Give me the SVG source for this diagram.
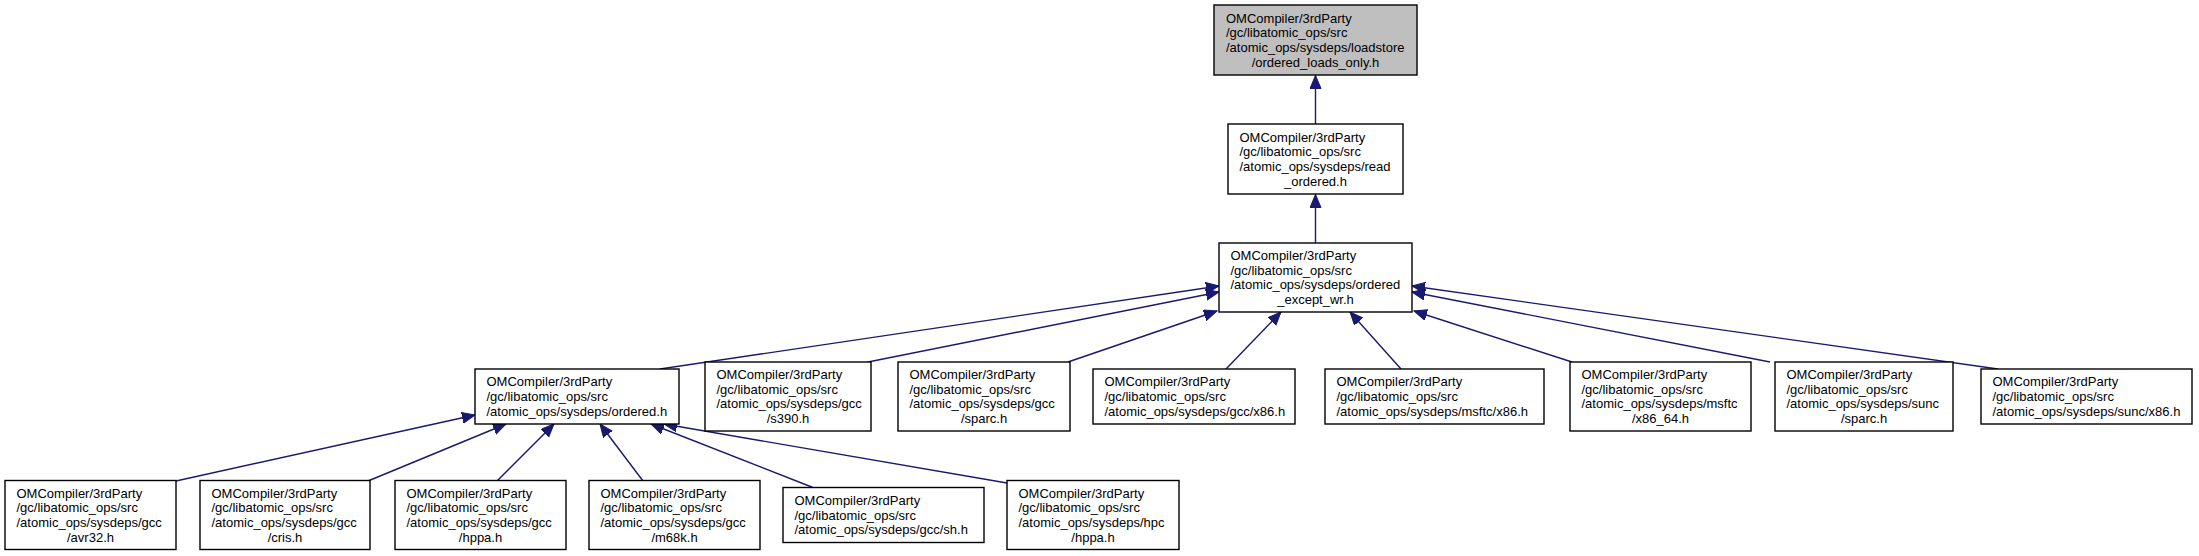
<svg xmlns="http://www.w3.org/2000/svg" width="2199" height="556" viewBox="0 0 2199 556">
<defs>
<style>
.box{fill:#ffffff;stroke:#000000;stroke-width:1.4}
.root{fill:#bfbfbf;stroke:#000000;stroke-width:1.4}
text{font-family:"Liberation Sans",Arial,Helvetica,sans-serif;font-size:13px;fill:#000000}
.c{text-anchor:middle}
.e{fill:none;stroke:#191970;stroke-width:1.4;marker-end:url(#ah)}
</style>
<marker id="ah" markerUnits="userSpaceOnUse" markerWidth="14" markerHeight="12" refX="13" refY="5.5" orient="auto">
<path d="M0,0 L13,5.5 L0,11 z" fill="#191970" stroke="#191970" stroke-width="1"/>
</marker>
</defs>
<rect width="2199" height="556" fill="#ffffff"/>

<g id="connectors">
<path class="e" d="M1315.5,124 L1315.5,75.5"/>
<path class="e" d="M1315.5,243 L1315.5,194.5"/>
<path class="e" d="M660,369 L1219,286"/>
<path class="e" d="M868,362 L1219,292"/>
<path class="e" d="M1068,362 L1217,311"/>
<path class="e" d="M1226,369 L1281,312"/>
<path class="e" d="M1401,369 L1350,312"/>
<path class="e" d="M1572,362 L1414,311"/>
<path class="e" d="M1770,362 L1412,292"/>
<path class="e" d="M1998,369 L1412,286"/>
<path class="e" d="M176,481 L475,415"/>
<path class="e" d="M368,481 L506,424"/>
<path class="e" d="M497,481 L554,424"/>
<path class="e" d="M643,481 L600,424"/>
<path class="e" d="M813,487.5 L651,424"/>
<path class="e" d="M1007,483 L664,424"/>
</g>

<g id="node_loads_only">
<rect class="root" x="1214" y="5" width="203" height="70"/>
<text x="1226" y="22.5">OMCompiler/3rdParty</text>
<text x="1226" y="37.2">/gc/libatomic_ops/src</text>
<text x="1226" y="51.9">/atomic_ops/sysdeps/loadstore</text>
<text class="c" x="1315.5" y="66.6">/ordered_loads_only.h</text>
</g>

<g id="node_read_ordered">
<rect class="box" x="1228" y="124" width="175" height="70"/>
<text x="1239.5" y="141.5">OMCompiler/3rdParty</text>
<text x="1239.5" y="156.2">/gc/libatomic_ops/src</text>
<text x="1239.5" y="170.9">/atomic_ops/sysdeps/read</text>
<text class="c" x="1315.5" y="185.6">_ordered.h</text>
</g>

<g id="node_ordered_except_wr">
<rect class="box" x="1219" y="243" width="193" height="69"/>
<text x="1230.5" y="260">OMCompiler/3rdParty</text>
<text x="1230.5" y="274.7">/gc/libatomic_ops/src</text>
<text x="1230.5" y="289.4">/atomic_ops/sysdeps/ordered</text>
<text class="c" x="1315.5" y="304.1">_except_wr.h</text>
</g>

<g id="node_ordered">
<rect class="box" x="475" y="369" width="204" height="55"/>
<text x="486.5" y="386.3">OMCompiler/3rdParty</text>
<text x="486.5" y="401">/gc/libatomic_ops/src</text>
<text x="486.5" y="415.7">/atomic_ops/sysdeps/ordered.h</text>
</g>

<g id="node_gcc_s390">
<rect class="box" x="705" y="362" width="166" height="69"/>
<text x="716.5" y="379">OMCompiler/3rdParty</text>
<text x="716.5" y="393.7">/gc/libatomic_ops/src</text>
<text x="716.5" y="408.4">/atomic_ops/sysdeps/gcc</text>
<text class="c" x="788" y="423.1">/s390.h</text>
</g>

<g id="node_gcc_sparc">
<rect class="box" x="898" y="362" width="172" height="69"/>
<text x="909.5" y="379">OMCompiler/3rdParty</text>
<text x="909.5" y="393.7">/gc/libatomic_ops/src</text>
<text x="909.5" y="408.4">/atomic_ops/sysdeps/gcc</text>
<text class="c" x="984" y="423.1">/sparc.h</text>
</g>

<g id="node_gcc_x86">
<rect class="box" x="1093" y="369" width="202" height="55"/>
<text x="1104.5" y="386.3">OMCompiler/3rdParty</text>
<text x="1104.5" y="401">/gc/libatomic_ops/src</text>
<text x="1104.5" y="415.7">/atomic_ops/sysdeps/gcc/x86.h</text>
</g>

<g id="node_msftc_x86">
<rect class="box" x="1325" y="369" width="219" height="55"/>
<text x="1336.5" y="386.3">OMCompiler/3rdParty</text>
<text x="1336.5" y="401">/gc/libatomic_ops/src</text>
<text x="1336.5" y="415.7">/atomic_ops/sysdeps/msftc/x86.h</text>
</g>

<g id="node_msftc_x86_64">
<rect class="box" x="1570" y="362" width="181" height="69"/>
<text x="1581.5" y="379">OMCompiler/3rdParty</text>
<text x="1581.5" y="393.7">/gc/libatomic_ops/src</text>
<text x="1581.5" y="408.4">/atomic_ops/sysdeps/msftc</text>
<text class="c" x="1660.5" y="423.1">/x86_64.h</text>
</g>

<g id="node_sunc_sparc">
<rect class="box" x="1775" y="362" width="178" height="69"/>
<text x="1786.5" y="379">OMCompiler/3rdParty</text>
<text x="1786.5" y="393.7">/gc/libatomic_ops/src</text>
<text x="1786.5" y="408.4">/atomic_ops/sysdeps/sunc</text>
<text class="c" x="1864" y="423.1">/sparc.h</text>
</g>

<g id="node_sunc_x86">
<rect class="box" x="1981" y="369" width="211" height="55"/>
<text x="1992.5" y="386.3">OMCompiler/3rdParty</text>
<text x="1992.5" y="401">/gc/libatomic_ops/src</text>
<text x="1992.5" y="415.7">/atomic_ops/sysdeps/sunc/x86.h</text>
</g>

<g id="node_gcc_avr32">
<rect class="box" x="5" y="480.5" width="171" height="69"/>
<text x="16.5" y="497.5">OMCompiler/3rdParty</text>
<text x="16.5" y="512.2">/gc/libatomic_ops/src</text>
<text x="16.5" y="526.9">/atomic_ops/sysdeps/gcc</text>
<text class="c" x="90.5" y="541.6">/avr32.h</text>
</g>

<g id="node_gcc_cris">
<rect class="box" x="200" y="480.5" width="170" height="69"/>
<text x="211.5" y="497.5">OMCompiler/3rdParty</text>
<text x="211.5" y="512.2">/gc/libatomic_ops/src</text>
<text x="211.5" y="526.9">/atomic_ops/sysdeps/gcc</text>
<text class="c" x="285" y="541.6">/cris.h</text>
</g>

<g id="node_gcc_hppa">
<rect class="box" x="395" y="480.5" width="171" height="69"/>
<text x="406.5" y="497.5">OMCompiler/3rdParty</text>
<text x="406.5" y="512.2">/gc/libatomic_ops/src</text>
<text x="406.5" y="526.9">/atomic_ops/sysdeps/gcc</text>
<text class="c" x="480.5" y="541.6">/hppa.h</text>
</g>

<g id="node_gcc_m68k">
<rect class="box" x="589" y="480.5" width="171" height="69"/>
<text x="600.5" y="497.5">OMCompiler/3rdParty</text>
<text x="600.5" y="512.2">/gc/libatomic_ops/src</text>
<text x="600.5" y="526.9">/atomic_ops/sysdeps/gcc</text>
<text class="c" x="674.5" y="541.6">/m68k.h</text>
</g>

<g id="node_gcc_sh">
<rect class="box" x="783" y="487.5" width="201" height="55"/>
<text x="794.5" y="504.8">OMCompiler/3rdParty</text>
<text x="794.5" y="519.5">/gc/libatomic_ops/src</text>
<text x="794.5" y="534.2">/atomic_ops/sysdeps/gcc/sh.h</text>
</g>

<g id="node_hpc_hppa">
<rect class="box" x="1007" y="480.5" width="172" height="69"/>
<text x="1018.5" y="497.5">OMCompiler/3rdParty</text>
<text x="1018.5" y="512.2">/gc/libatomic_ops/src</text>
<text x="1018.5" y="526.9">/atomic_ops/sysdeps/hpc</text>
<text class="c" x="1093" y="541.6">/hppa.h</text>
</g>
</svg>
